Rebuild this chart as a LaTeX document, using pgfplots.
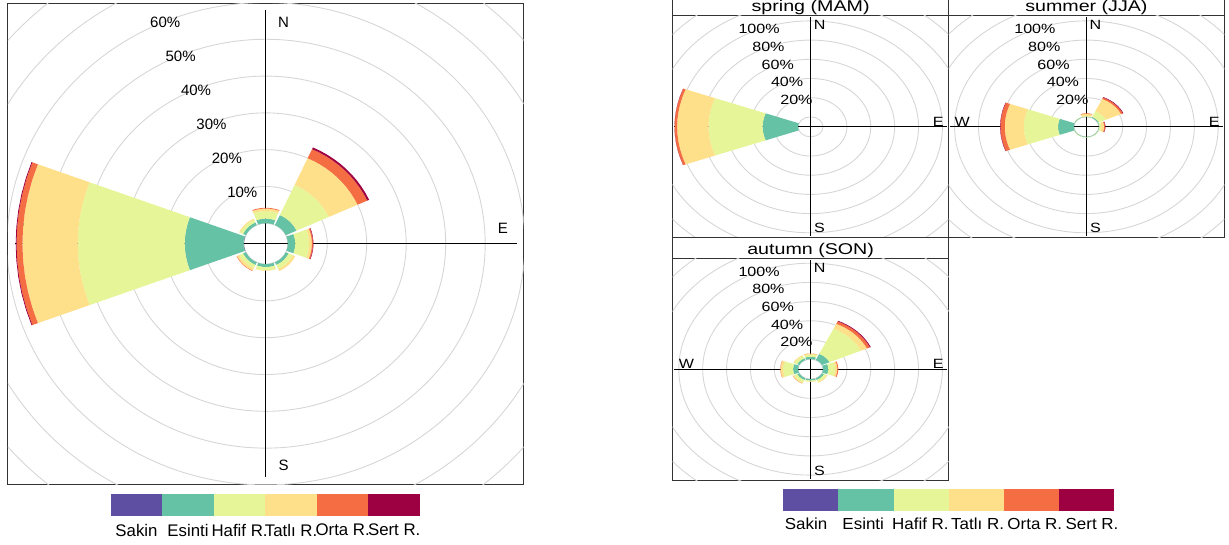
\documentclass[border=0pt]{standalone}
\usepackage{graphicx}
\usepackage{pgfplots}
\pgfplotsset{compat=1.18}
\usepackage{pgfplotstable}
\usepgfplotslibrary{polar}
\usepackage{fontspec}
\setmainfont{Liberation Sans}

\definecolor{clr1}{HTML}{5E4FA2}
\definecolor{clr2}{HTML}{66C2A5}
\definecolor{clr3}{HTML}{E6F598}
\definecolor{clr4}{HTML}{FEE08B}
\definecolor{clr5}{HTML}{F46D43}
\definecolor{clr6}{HTML}{9E0142}
\definecolor{ringgray}{HTML}{D6D6D6}
\definecolor{framegray}{HTML}{333333}

% frequency (%) per direction and speed class
% c1 Sakin, c2 Esinti, c3 Hafif R., c4 Tatli R., c5 Orta R., c6 Sert R.
\pgfplotstableread{
dir c1  c2   c3   c4   c5  c6
0   0   1.25 2.05 0.7  0.2 0
45  0   3.0  9.0  8.0  2.7 0.5
90  0   1.9  3.5  0.7  0.3 0.1
135 0   0.8  1.2  0.6  0   0
180 0   0.8  0.9  0.1  0   0
225 0   0.8  1.0  0.7  0.1 0
270 0.1 14.9 27.1 14.0 1.5 0.2
315 0   0.8  0.8  0.3  0   0
}\tabAll

\pgfplotstableread{
dir c1  c2   c3   c4   c5  c6
0   0   0    0    0    0   0
45  0   0    0    0    0   0
90  0   0    0    0    0   0
135 0   0    0    0    0   0
180 0   0    0    0    0   0
225 0   0    0    0    0   0
270 0   29.8 45.3 26.3 2.1 0.1
315 0   0    0    0    0   0
}\tabSpring

\pgfplotstableread{
dir c1  c2   c3   c4   c5  c6
0   0   0.3  0.7  2.2  0.5 0
45  0   1.0  6.5  14.0 1.7 0.5
90  0   0.5  1.5  2.5  0.8 0.2
135 0   0.5  0.3  0    0   0
180 0   0.5  0.3  0    0   0
225 0   0.5  0.3  0    0   0
270 0   13.4 28.6 16.0 3.6 0.3
315 0   0.5  0.3  0    0   0
}\tabSummer

\pgfplotstableread{
dir c1  c2   c3   c4   c5  c6
0   0   2.5  2.3  1.0  0.1 0
45  0   7.0  29.0 5.5  2.8 0.7
90  0   4.4  5.7  1.9  0.8 0
135 0   2.0  2.3  0.8  0   0
180 0   1.5  1.0  0.3  0   0
225 0   2.0  3.0  1.0  0.1 0
270 0   4.2  8.4  2.2  0.2 0
315 0   2.0  2.5  1.0  0   0
}\tabAutumn

\def\hw{20.5}
% one annular sector: #1 compass direction, #2 inner radius, #3 outer radius, #4 colour
\newcommand\sector[4]{%
  \pgfmathsetmacro\aA{90-#1-\hw}%
  \pgfmathsetmacro\aS{2*\hw/10}%
  \def\pts{}%
  \pgfplotsforeachungrouped \t in {0,1,2,3,4,5,6,7,8,9,10}{%
    \pgfmathsetmacro\ang{\aA+\aS*\t}%
    \edef\pts{\pts (\ang,#3)}%
  }%
  \pgfplotsforeachungrouped \t in {10,9,8,7,6,5,4,3,2,1,0}{%
    \pgfmathsetmacro\ang{\aA+\aS*\t}%
    \edef\pts{\pts (\ang,#2)}%
  }%
  \edef\cmd{\noexpand\addplot[fill=#4,draw=none,data cs=polar,forget plot] coordinates {\pts};}%
  \cmd
}
% stacked petals from a table: #1 table, #2 offset (hole radius)
\newcommand\rose[2]{%
  \pgfplotstablegetrowsof{#1}%
  \pgfmathtruncatemacro\nr{\pgfplotsretval-1}%
  \foreach \r in {0,...,\nr}{%
    \pgfplotstablegetelem{\r}{dir}\of{#1}\let\dd\pgfplotsretval
    \xdef\cum{#2}%
    \foreach \k in {1,...,6}{%
      \edef\colname{c\k}%
      \pgfplotstablegetelem{\r}{\colname}\of{#1}\let\vv\pgfplotsretval
      \pgfmathsetmacro\rout{\cum+\vv}%
      \ifdim\vv pt>0pt
        \sector{\dd}{\cum}{\rout}{clr\k}%
      \fi
      \xdef\cum{\rout}%
    }%
  }%
}

\pgfplotsset{
  roseaxis/.style={
    scale only axis, anchor=north west,
    xmin=-#1, xmax=#1, ymin=-#1, ymax=#1,
    xtick=\empty, ytick=\empty,
    axis line style={line width=1pt, draw=framegray},
  }
}
\tikzset{
  lfont/.style={font=\fontsize{15}{18}\selectfont, inner sep=0pt},
  rfont/.style={font=\fontsize{13.4}{16}\selectfont, inner sep=0pt},
  ring/.style={ringgray, line width=0.9pt},
  cross/.style={black, line width=1.1pt},
}
\newcommand\rs[1]{\scalebox{1.2}[1]{#1}}

\begin{document}
\begin{tikzpicture}[x=1pt,y=1pt]
\useasboundingbox (0,0) rectangle (1229,-545);

% ---------------- left: all data ----------------
\begin{axis}[roseaxis=65.3, at={(8pt,-3.4pt)}, width=515.7pt, height=480.6pt]
  \draw[ring] (axis cs:0,0) ellipse [x radius=5.55, y radius=5.55];
  \draw[ring] (axis cs:0,0) ellipse [x radius=15.55, y radius=15.55];
  \draw[ring] (axis cs:0,0) ellipse [x radius=25.55, y radius=25.55];
  \draw[ring] (axis cs:0,0) ellipse [x radius=35.55, y radius=35.55];
  \draw[ring] (axis cs:0,0) ellipse [x radius=45.55, y radius=45.55];
  \draw[ring] (axis cs:0,0) ellipse [x radius=55.55, y radius=55.55];
  \draw[ring] (axis cs:0,0) ellipse [x radius=65.55, y radius=65.55];
  \draw[ring] (axis cs:0,0) ellipse [x radius=75.55, y radius=75.55];
  \draw[ring] (axis cs:0,0) ellipse [x radius=85.55, y radius=85.55];
  \draw[cross] (axis cs:0,-63.5) -- (axis cs:0,63.5);
  \draw[cross] (axis cs:-63.5,0) -- (axis cs:63.5,0);
  \node[lfont] at (axis cs:4.5,60.2) {N};
  \node[lfont] at (axis cs:4.5,-60.1) {S};
  \node[lfont] at (axis cs:60.0,4.3) {E};
  \node[lfont] at (axis cs:-60.0,4.3) {W};
  \rose{\tabAll}{5.55}
  \node[lfont] at (axis cs:-5.96,14.04) {10\%};
  \node[lfont] at (axis cs:-9.87,23.24) {20\%};
  \node[lfont] at (axis cs:-13.77,32.45) {30\%};
  \node[lfont] at (axis cs:-17.68,41.65) {40\%};
  \node[lfont] at (axis cs:-21.59,50.86) {50\%};
  \node[lfont] at (axis cs:-25.49,60.06) {60\%};
\end{axis}

% left legend
\foreach \i in {1,...,6}{
  \fill[clr\i] ({110.7+(\i-1)*51.55},-494.3) rectangle ({110.7+\i*51.55},-516);
}
\foreach \i/\t in {1/Sakin,2/Esinti,3/Hafif R.,4/Tatlı R.,5/Orta R.,6/Sert R.}{
  \node[font=\fontsize{16.8}{20}\selectfont, inner sep=0pt] at ({110.7+(\i-0.5)*51.55},-530) {\t};
}

% ---------------- seasonal panels ----------------
\newcommand\seasonpanel[4]{% #1 x, #2 y top of panel, #3 table, #4 title
  \draw[framegray, line width=1pt] (#1,{-#2}) rectangle ({#1+275.8},{-#2+20.6});
  \node[font=\fontsize{15.6}{18}\selectfont, inner sep=0pt] at ({#1+137.9},{-#2+8.3}) {\scalebox{1.26}[1]{#4}};
  \begin{axis}[roseaxis=115.5, at={(#1pt,-#2pt)}, width=275.8pt, height=221.7pt]
    \draw[ring] (axis cs:0,0) ellipse [x radius=10.4, y radius=10.4];
    \draw[ring] (axis cs:0,0) ellipse [x radius=30.4, y radius=30.4];
    \draw[ring] (axis cs:0,0) ellipse [x radius=50.4, y radius=50.4];
    \draw[ring] (axis cs:0,0) ellipse [x radius=70.4, y radius=70.4];
    \draw[ring] (axis cs:0,0) ellipse [x radius=90.4, y radius=90.4];
    \draw[ring] (axis cs:0,0) ellipse [x radius=110.4, y radius=110.4];
    \draw[ring] (axis cs:0,0) ellipse [x radius=130.4, y radius=130.4];
    \draw[ring] (axis cs:0,0) ellipse [x radius=150.4, y radius=150.4];
    \draw[cross] (axis cs:0,-114) -- (axis cs:0,114);
    \draw[cross] (axis cs:-114,0) -- (axis cs:114,0);
    \node[rfont] at (axis cs:7.5,106) {\rs{N}};
    \node[rfont] at (axis cs:7.5,-105.5) {\rs{S}};
    \node[rfont] at (axis cs:107,5.5) {\rs{E}};
    \node[rfont] at (axis cs:-104,5.5) {\rs{W}};
    \rose{#3}{10.4}
    \node[rfont] at (axis cs:-11.88,27.98) {\rs{20\%}};
    \node[rfont] at (axis cs:-19.69,46.39) {\rs{40\%}};
    \node[rfont] at (axis cs:-27.51,64.80) {\rs{60\%}};
    \node[rfont] at (axis cs:-35.32,83.21) {\rs{80\%}};
    \node[rfont] at (axis cs:-43.13,101.62) {\rs{100\%}};
  \end{axis}
}
\seasonpanel{672.7}{16}{\tabSpring}{spring (MAM)}
\seasonpanel{948.5}{16}{\tabSummer}{summer (JJA)}
\seasonpanel{672.7}{258.3}{\tabAutumn}{autumn (SON)}

% right legend
\foreach \i in {1,...,6}{
  \fill[clr\i] ({783.3+(\i-1)*55.17},-489.3) rectangle ({783.3+\i*55.17},-511);
}
\foreach \i/\t in {1/Sakin,2/Esinti,3/Hafif R.,4/Tatlı R.,5/Orta R.,6/Sert R.}{
  \node[font=\fontsize{16}{19}\selectfont, inner sep=0pt] at ({806+(\i-1)*57.2},-524) {\scalebox{1.06}[1]{\t}};
}
\end{tikzpicture}
\end{document}
